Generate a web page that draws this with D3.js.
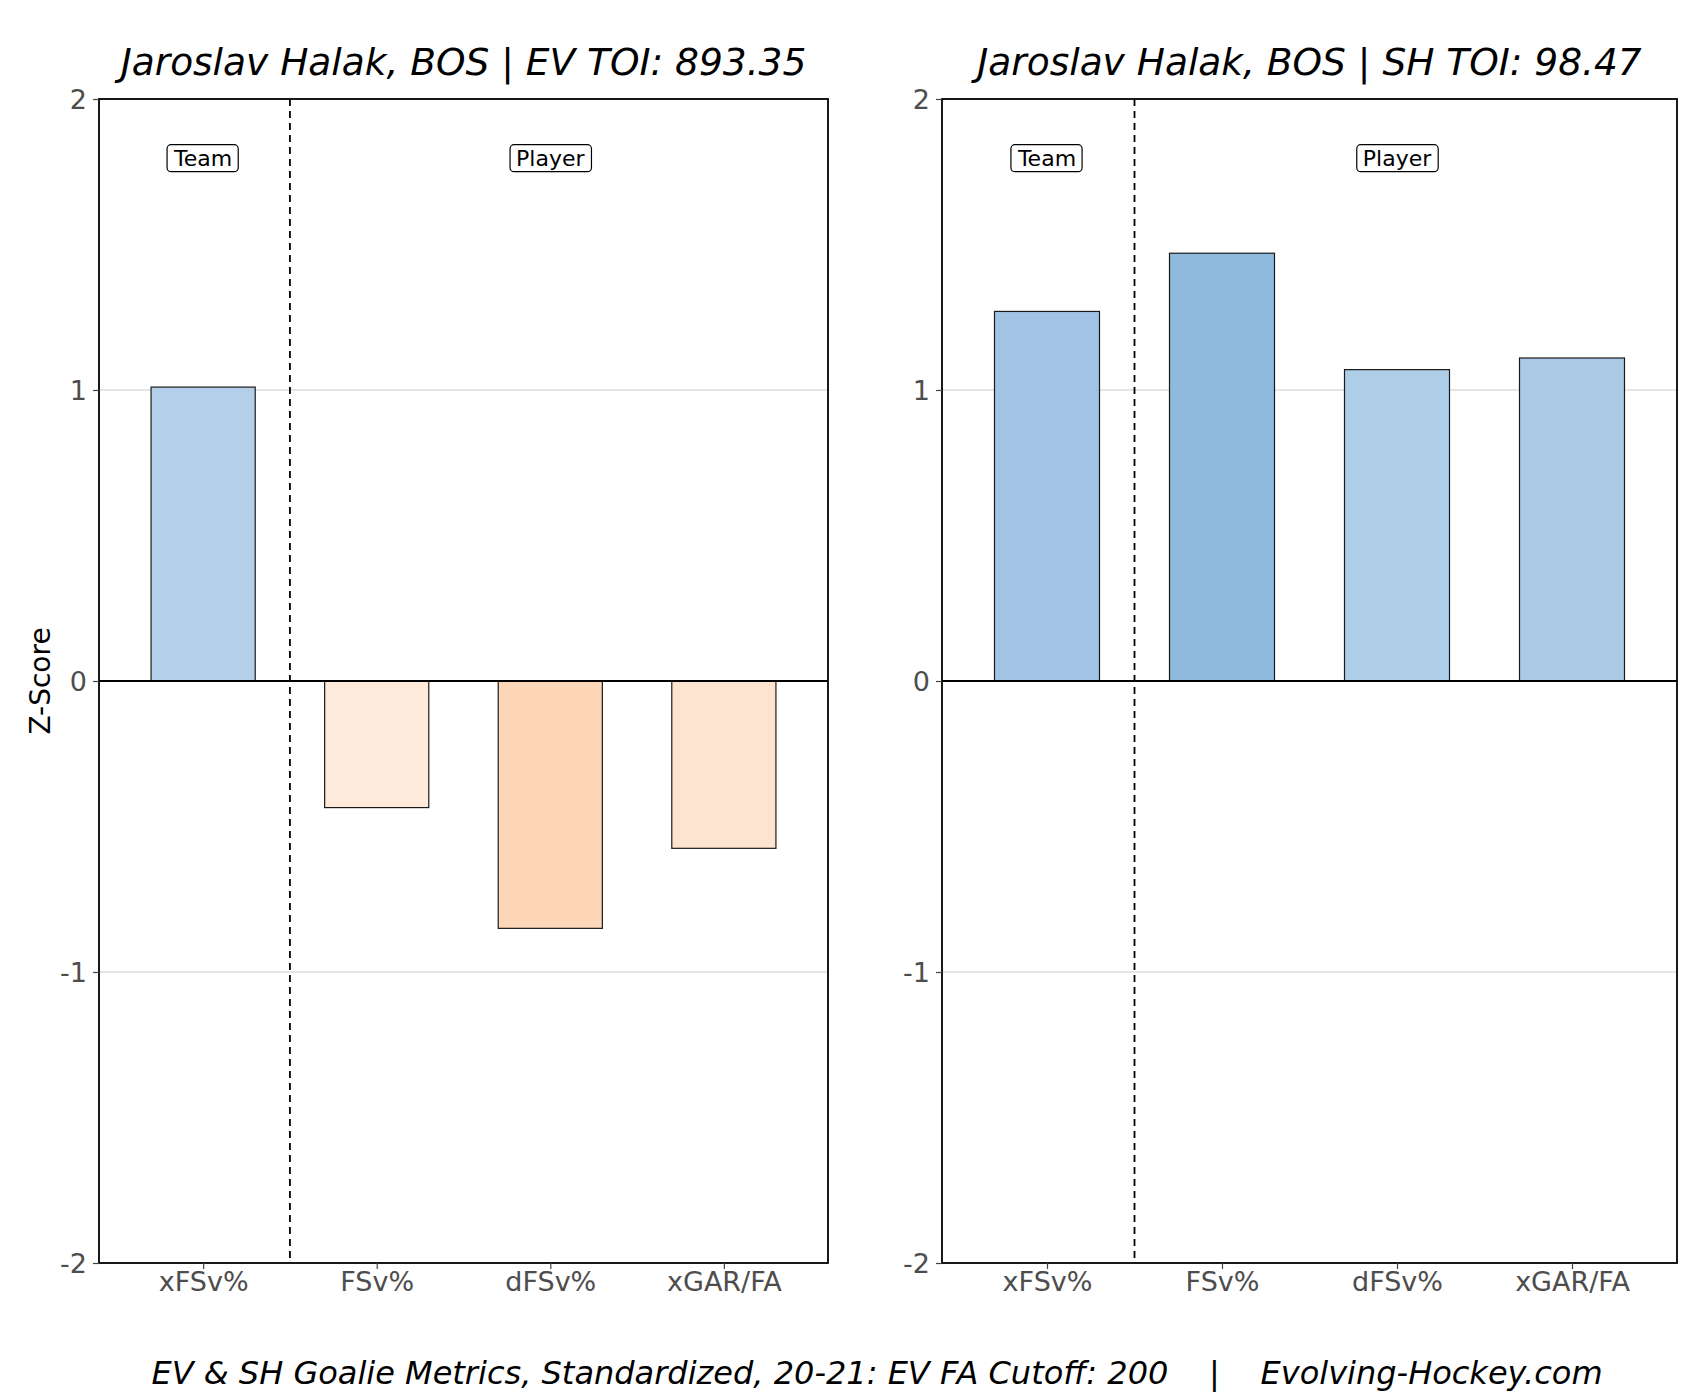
<!DOCTYPE html>
<html>
<head>
<meta charset="utf-8">
<script src="https://cdnjs.cloudflare.com/ajax/libs/d3/7.8.5/d3.min.js"></script>
<style>
	body { margin: 0; background: #fff; }
	text { font-family: "DejaVu Sans", sans-serif; }
</style>
</head>
<body>
<div id="graph"></div>
<script>
var metrics = ["xFSv%", "FSv%", "dFSv%", "xGAR/FA"];
var evValues = [1.01, -0.435, -0.85, -0.575];
var shValues = [1.27, 1.47, 1.07, 1.11];
var evColors = ["#b4cfe9", "#feeadb", "#fdd7b8", "#fde4d0"];
var shColors = ["#a1c4e4", "#8fbadd", "#aecde6", "#abcae6"];
var yTicks = [-2, -1, 0, 1, 2];
var titles = ["Jaroslav Halak, BOS | EV TOI: 893.35", "Jaroslav Halak, BOS | SH TOI: 98.47"];
var footer = "EV & SH Goalie Metrics, Standardized, 20-21: EV FA Cutoff: 200    |    Evolving-Hockey.com";

var SVGwidth = 1702,
	SVGheight = 1396,
	plotTop = 99,
	plotBottom = 1263,
	panels = [{left: 99, right: 828, values: evValues, colors: evColors, title: titles[0]},
		{left: 942, right: 1677, values: shValues, colors: shColors, title: titles[1]}];

var svg = d3.select('div#graph')
	.append('svg')
	.attr('width', SVGwidth)
	.attr('height', SVGheight);

var y = d3.scaleLinear()
	.domain([-2, 2])
	.range([plotBottom, plotTop]);

panels.forEach(function(p) {
	var x = d3.scaleLinear()
		.domain([-0.6, 3.6])
		.range([p.left, p.right]);
	var g = svg.append("g");

	// grid
	g.selectAll("line.grid")
		.data([-1, 1])
		.enter()
		.append("line")
		.attr("x1", p.left).attr("x2", p.right)
		.attr("y1", function(d) { return y(d); })
		.attr("y2", function(d) { return y(d); })
		.attr("stroke", "#cccccc")
		.attr("stroke-width", 1.2);

	// bars
	g.selectAll("rect.bar")
		.data(p.values)
		.enter()
		.append("rect")
		.attr("x", function(d, i) { return x(i - 0.3); })
		.attr("width", function(d, i) { return x(i + 0.3) - x(i - 0.3); })
		.attr("y", function(d) { return y(Math.max(d, 0)); })
		.attr("height", function(d) { return Math.abs(y(d) - y(0)); })
		.attr("fill", function(d, i) { return p.colors[i]; })
		.attr("stroke", "#1a1a1a")
		.attr("stroke-width", 1.2);

	// zero line
	g.append("line")
		.attr("x1", p.left).attr("x2", p.right)
		.attr("y1", y(0)).attr("y2", y(0))
		.attr("stroke", "#000").attr("stroke-width", 1.8);

	// divider
	g.append("line")
		.attr("x1", x(0.5)).attr("x2", x(0.5))
		.attr("y1", plotTop).attr("y2", plotBottom)
		.attr("stroke", "#000")
		.attr("stroke-width", 1.8)
		.attr("stroke-dasharray", "7,5");

	// frame
	g.append("rect")
		.attr("x", p.left).attr("y", plotTop)
		.attr("width", p.right - p.left).attr("height", plotBottom - plotTop)
		.attr("fill", "none")
		.attr("stroke", "#000")
		.attr("stroke-width", 1.8);

	// axes
	var yAxis = g.append("g")
		.attr("transform", "translate(" + p.left + ",0)")
		.call(d3.axisLeft(y).tickValues(yTicks).tickSize(6).tickPadding(6)
			.tickFormat(function(d) { return String(d); }));
	var xAxis = g.append("g")
		.attr("transform", "translate(0," + plotBottom + ")")
		.call(d3.axisBottom(x).tickValues([0, 1, 2, 3]).tickSize(6).tickPadding(3)
			.tickFormat(function(d) { return metrics[d]; }));
	[yAxis, xAxis].forEach(function(a) {
		a.select(".domain").remove();
		a.selectAll(".tick line").attr("stroke", "#444").attr("stroke-width", 1.2);
		a.selectAll(".tick text").attr("fill", "#4d4d4d").style("font-size", "27px");
	});
	yAxis.selectAll(".tick text").attr("dy", "0.35em");

	// group labels
	[{label: "Team", pos: 0}, {label: "Player", pos: 2}].forEach(function(l) {
		var t = g.append("text")
			.attr("x", x(l.pos))
			.attr("y", 158)
			.attr("text-anchor", "middle")
			.attr("dy", "0.35em")
			.style("font-size", "22px")
			.text(l.label);
		var bb = t.node().getBBox();
		g.insert("rect", function() { return t.node(); })
			.attr("x", bb.x - 6).attr("y", bb.y - 1)
			.attr("width", bb.width + 12).attr("height", bb.height + 2)
			.attr("rx", 4)
			.attr("fill", "#fff")
			.attr("stroke", "#000")
			.attr("stroke-width", 1.2);
	});

	// title
	g.append("text")
		.attr("x", (p.left + p.right) / 2)
		.attr("y", 75)
		.attr("text-anchor", "middle")
		.style("font-size", "37.5px")
		.style("font-style", "italic")
		.text(p.title);
});

svg.append("text")
	.attr("transform", "translate(50," + y(0) + ") rotate(-90)")
	.attr("text-anchor", "middle")
	.style("font-size", "28px")
	.text("Z-Score");

svg.append("text")
	.attr("x", 877)
	.attr("y", 1384)
	.attr("text-anchor", "middle")
	.attr("xml:space", "preserve")
	.style("white-space", "pre")
	.style("font-size", "32px")
	.style("font-style", "italic")
	.text(footer);
</script>
</body>
</html>
